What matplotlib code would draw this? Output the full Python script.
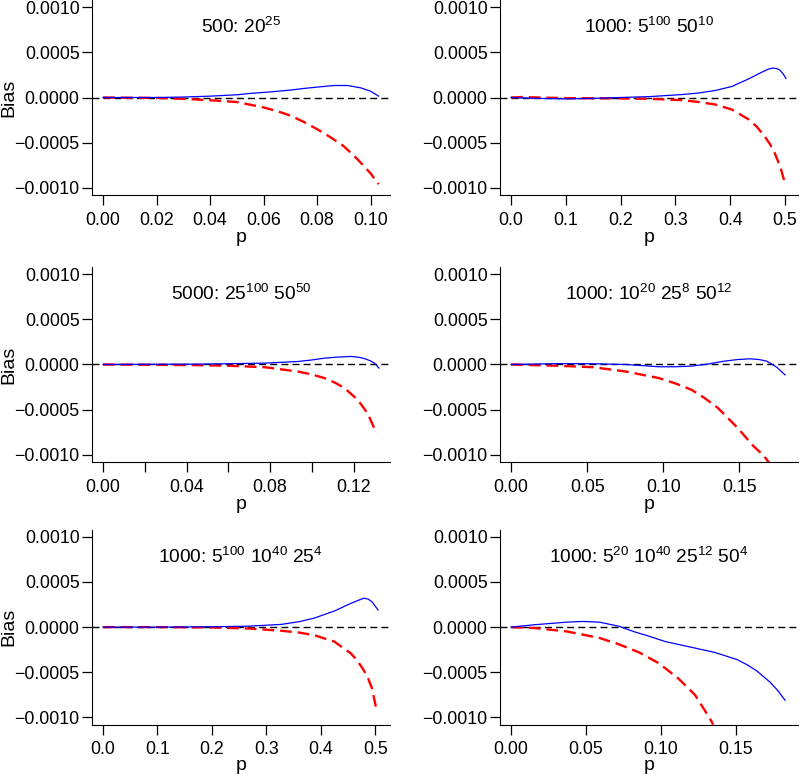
import matplotlib
matplotlib.use("Agg")
import matplotlib.pyplot as plt

plt.rcParams['font.family'] = ['Liberation Sans', 'DejaVu Sans']
plt.rcParams['mathtext.fontset'] = 'custom'
plt.rcParams['mathtext.rm'] = 'Liberation Sans'
plt.rcParams['mathtext.it'] = 'Liberation Sans'

# titulos de cada panel
titles = [
    r'500: $\mathregular{20^{25}}$',
    r'1000: $\mathregular{5^{100}\ 50^{10}}$',
    r'5000: $\mathregular{25^{100}\ 50^{50}}$',
    r'1000: $\mathregular{10^{20}\ 25^{8}\ 50^{12}}$',
    r'1000: $\mathregular{5^{100}\ 10^{40}\ 25^{4}}$',
    r'1000: $\mathregular{5^{20}\ 10^{40}\ 25^{12}\ 50^{4}}$',
]

# panel 1
p1_blue = [0.0, 0.02, 0.03, 0.04, 0.05, 0.055, 0.063, 0.07, 0.075, 0.08, 0.0865, 0.0914, 0.0963, 0.1, 0.103]
b1_blue = [0.0, 0.0, 0.000005, 0.000015, 0.00003, 0.000045, 0.000063, 0.000082, 0.0001, 0.000115, 0.000133, 0.000133, 0.000107, 0.00007, 0.000015]
p1_red = [0.0, 0.02, 0.03, 0.04, 0.05, 0.055, 0.06, 0.065, 0.07, 0.075, 0.08, 0.085, 0.09, 0.095, 0.10, 0.103]
b1_red = [0.0, -0.000005, -0.000015, -0.00003, -0.00005, -0.00008, -0.00011, -0.00015, -0.0002, -0.00027, -0.00035, -0.00044, -0.00054, -0.00068, -0.00084, -0.00096]

# panel 2
p2_blue = [0.0, 0.05, 0.1, 0.15, 0.2, 0.253, 0.313, 0.343, 0.373, 0.403, 0.433, 0.457, 0.47, 0.478, 0.485, 0.49, 0.497, 0.502]
b2_blue = [0.0, -0.00001, -0.000015, -0.00001, 0.0, 0.00001, 0.000033, 0.00005, 0.000078, 0.000122, 0.000204, 0.000278, 0.000315, 0.000326, 0.00032, 0.000307, 0.00026, 0.00021]
p2_red = [0.0, 0.02, 0.05, 0.1, 0.2, 0.253, 0.313, 0.343, 0.373, 0.403, 0.433, 0.448, 0.463, 0.473, 0.481, 0.487, 0.493, 0.5]
b2_red = [0.0, 0.000005, 0.0, -0.000007, -0.00001, -0.000014, -0.00003, -0.00005, -0.000078, -0.000133, -0.00024, -0.00032, -0.00043, -0.00052, -0.00061, -0.0007, -0.0008, -0.00095]

# panel 3
p3_blue = [0.0, 0.0457, 0.0775, 0.0933, 0.1, 0.106, 0.1125, 0.1187, 0.122, 0.125, 0.128, 0.13, 0.1322]
b3_blue = [0.0, 0.000004, 0.000015, 0.000033, 0.00005, 0.00007, 0.000082, 0.000089, 0.000082, 0.000067, 0.000042, 0.000015, -0.00004]
p3_red = [0.0, 0.0457, 0.0616, 0.0775, 0.0933, 0.1, 0.106, 0.111, 0.1156, 0.122, 0.1267, 0.131]
b3_red = [0.0, -0.000007, -0.000015, -0.00003, -0.000078, -0.00011, -0.00015, -0.0002, -0.00026, -0.00039, -0.00054, -0.00076]

# panel 4
p4_blue = [0.0, 0.0323, 0.0539, 0.0754, 0.097, 0.108, 0.1185, 0.129, 0.14, 0.149, 0.157, 0.163, 0.168, 0.1745, 0.18]
b4_blue = [0.0, 0.00001, 0.000008, 0.0, -0.000025, -0.000025, -0.000018, 0.000004, 0.000037, 0.000055, 0.000063, 0.000055, 0.000037, -0.00003, -0.000115]
p4_red = [0.0, 0.0323, 0.0539, 0.0754, 0.097, 0.108, 0.1185, 0.127, 0.1358, 0.1487, 0.159, 0.166, 0.17]
b4_red = [0.0, -0.000015, -0.00003, -0.000078, -0.00015, -0.00021, -0.00028, -0.00037, -0.00048, -0.0007, -0.0009, -0.00101, -0.0011]

# panel 5
p5_blue = [0.0, 0.1, 0.2, 0.266, 0.327, 0.36, 0.388, 0.4246, 0.455, 0.47, 0.479, 0.487, 0.494, 0.505]
b5_blue = [0.0, 0.0, 0.000004, 0.00001, 0.00003, 0.00006, 0.0001, 0.000178, 0.000263, 0.0003, 0.00032, 0.00031, 0.00028, 0.00019]
p5_red = [0.0, 0.1, 0.2, 0.266, 0.327, 0.36, 0.388, 0.4246, 0.455, 0.468, 0.479, 0.487, 0.494, 0.503]
b5_red = [0.0, 0.0, -0.000004, -0.000015, -0.00004, -0.00006, -0.00009, -0.00016, -0.00029, -0.00038, -0.00048, -0.00057, -0.00068, -0.00094]

# panel 6
p6_blue = [0.0, 0.0154, 0.0373, 0.048, 0.059, 0.072, 0.082, 0.092, 0.103, 0.114, 0.125, 0.136, 0.151, 0.158, 0.1645, 0.173, 0.178, 0.183]
b6_blue = [0.0, 0.000026, 0.000055, 0.000063, 0.000055, 0.00001, -0.00005, -0.0001, -0.00016, -0.0002, -0.00024, -0.00028, -0.00036, -0.00042, -0.00049, -0.00061, -0.0007, -0.00081]
p6_red = [0.0, 0.0154, 0.0373, 0.059, 0.072, 0.0855, 0.0987, 0.1118, 0.1228, 0.1327, 0.135]
b6_red = [0.0, -0.00001, -0.000048, -0.00012, -0.00019, -0.00028, -0.0004, -0.00057, -0.00075, -0.00101, -0.00108]

# rango de p y marcas del eje x
p_max = [0.103, 0.503, 0.132, 0.181, 0.506, 0.184]
x_ticks = [
    [0.00, 0.02, 0.04, 0.06, 0.08, 0.10],
    [0.0, 0.1, 0.2, 0.3, 0.4, 0.5],
    [0.00, 0.02, 0.04, 0.06, 0.08, 0.10, 0.12],
    [0.00, 0.05, 0.10, 0.15],
    [0.0, 0.1, 0.2, 0.3, 0.4, 0.5],
    [0.00, 0.05, 0.10, 0.15],
]
x_labels = [
    ['0.00', '0.02', '0.04', '0.06', '0.08', '0.10'],
    ['0.0', '0.1', '0.2', '0.3', '0.4', '0.5'],
    ['0.00', '', '0.04', '', '0.08', '', '0.12'],
    ['0.00', '0.05', '0.10', '0.15'],
    ['0.0', '0.1', '0.2', '0.3', '0.4', '0.5'],
    ['0.00', '0.05', '0.10', '0.15'],
]
y_ticks = [0.001, 0.0005, 0.0, -0.0005, -0.001]
y_labels = ['0.0010', '0.0005', '0.0000', '\u22120.0005', '\u22120.0010']

blue_p = [p1_blue, p2_blue, p3_blue, p4_blue, p5_blue, p6_blue]
blue_b = [b1_blue, b2_blue, b3_blue, b4_blue, b5_blue, b6_blue]
red_p = [p1_red, p2_red, p3_red, p4_red, p5_red, p6_red]
red_b = [b1_red, b2_red, b3_red, b4_red, b5_red, b6_red]

fig = plt.figure(figsize=(8, 7.8), dpi=100)

lefts = [0.115, 0.625]
bottoms = [0.75, 0.4077, 0.071]
w = 0.372
h = 0.25

for i in range(6):
    fila = i // 2
    col = i % 2
    ax = fig.add_axes([lefts[col], bottoms[fila], w, h])
    pad = p_max[i] * 0.04
    ax.set_xlim(-pad, p_max[i] + pad)
    ax.set_ylim(-0.00108, 0.00108)
    ax.axhline(0, color='black', lw=1.0, linestyle=(0, (5, 3)))
    ax.plot(red_p[i], red_b[i], color='red', lw=1.7, linestyle=(0, (5, 2.5)))
    ax.plot(blue_p[i], blue_b[i], color='blue', lw=0.9)
    ax.spines['top'].set_visible(False)
    ax.spines['right'].set_visible(False)
    ax.set_xticks(x_ticks[i])
    ax.set_xticklabels(x_labels[i])
    ax.set_yticks(y_ticks)
    ax.set_yticklabels(y_labels)
    ax.tick_params(axis='both', length=7, width=0.9, labelsize=12.8)
    ax.tick_params(axis='x', pad=5)
    ax.tick_params(axis='y', pad=2)
    ax.set_xlabel('p', fontsize=14)
    ax.xaxis.set_label_coords(0.5, -0.175 if fila < 2 else -0.165)
    if col == 0:
        ax.set_ylabel('Bias', fontsize=14)
        ax.yaxis.set_label_coords(-0.25, 0.5)
    ax.text(0.5, 0.83, titles[i], transform=ax.transAxes, ha='center', va='baseline', fontsize=13.8)

fig.savefig('out.png', dpi=100)
plt.close()
